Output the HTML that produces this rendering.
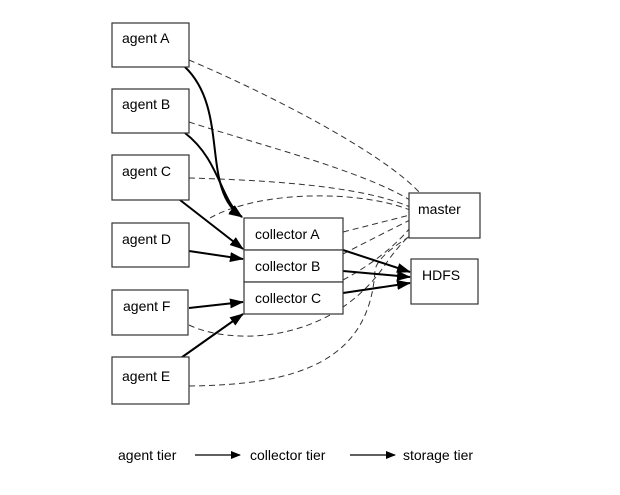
<!DOCTYPE html>
<html><head><style>
html,body{margin:0;padding:0;background:#fff;}
svg{display:block;font-family:"Liberation Sans",sans-serif;}
</style></head><body>
<svg width="620" height="495" viewBox="0 0 620 495" xmlns="http://www.w3.org/2000/svg">
<defs>
<marker id="ah" markerWidth="10" markerHeight="8" refX="9" refY="4" orient="auto" markerUnits="userSpaceOnUse">
<path d="M0,0 L10,4 L0,8 z" fill="#000"/></marker>
<marker id="ah2" markerWidth="14" markerHeight="10" refX="13" refY="5" orient="auto" markerUnits="userSpaceOnUse">
<path d="M0,0 L14,5 L0,10 z" fill="#000"/></marker>
</defs>
<g fill="none" stroke="#333" stroke-width="1" stroke-dasharray="6,4">
<path d="M189,60 C260,90 380,150 420,193"/>
<path d="M189,122 C260,145 360,170 410,200"/>
<path d="M189,178 C260,180 360,185 410,207"/>
<path d="M210,218 C260,190 360,190 410,210"/>
<path d="M343,232 L410,215"/>
<path d="M343,254 C370,240 390,230 410,220"/>
<path d="M343,280 C380,260 400,240 410,228"/>
<path d="M189,325 C230,345 330,345 385,265 C395,250 405,240 410,235"/>
<path d="M189,386 C300,385 370,360 375,270 C378,255 405,240 410,236"/>
</g>
<g fill="none" stroke="#000" stroke-width="2">
<path d="M185,67 C230,110 200,190 242,217" marker-end="url(#ah2)"/>
<path d="M185,133 C220,160 220,200 242,217" marker-end="url(#ah2)"/>
<path d="M180,200 L243,249" marker-end="url(#ah2)"/>
<path d="M189,251 L243,259" marker-end="url(#ah2)"/>
<path d="M189,308 L243,302" marker-end="url(#ah2)"/>
<path d="M178,360 L243,314" marker-end="url(#ah2)"/>
<path d="M343,250 L410,272" marker-end="url(#ah2)"/>
<path d="M343,271 L410,277" marker-end="url(#ah2)"/>
<path d="M343,293 L410,283" marker-end="url(#ah2)"/>
</g>
<g fill="#fff" stroke="#333" stroke-width="1.2">
<rect x="112" y="23" width="77" height="44"/>
<rect x="112" y="89" width="77" height="44"/>
<rect x="112" y="155" width="77" height="45"/>
<rect x="112" y="223" width="77" height="44"/>
<rect x="112" y="290" width="76" height="45"/>
<rect x="112" y="357" width="77" height="47"/>
<rect x="244" y="218" width="99" height="32"/>
<rect x="244" y="250" width="99" height="32"/>
<rect x="244" y="282" width="99" height="32"/>
<rect x="409" y="193" width="71" height="45"/>
<rect x="411" y="259" width="67" height="45"/>
</g>
<g font-size="14" fill="#000">
<text x="122" y="43">agent A</text>
<text x="122" y="109">agent B</text>
<text x="122" y="176">agent C</text>
<text x="122" y="244">agent D</text>
<text x="123" y="311">agent F</text>
<text x="122" y="381">agent E</text>
<text x="255" y="239">collector A</text>
<text x="255" y="271">collector B</text>
<text x="255" y="303">collector C</text>
<text x="418" y="214">master</text>
<text x="422" y="280">HDFS</text>
<text x="118" y="460">agent tier</text>
<text x="250" y="460">collector tier</text>
<text x="403" y="460">storage tier</text>
</g>
<g stroke="#000" stroke-width="1.2">
<line x1="195" y1="455" x2="240" y2="455" marker-end="url(#ah)"/>
<line x1="350" y1="455" x2="395" y2="455" marker-end="url(#ah)"/>
</g>
</svg>
</body></html>
